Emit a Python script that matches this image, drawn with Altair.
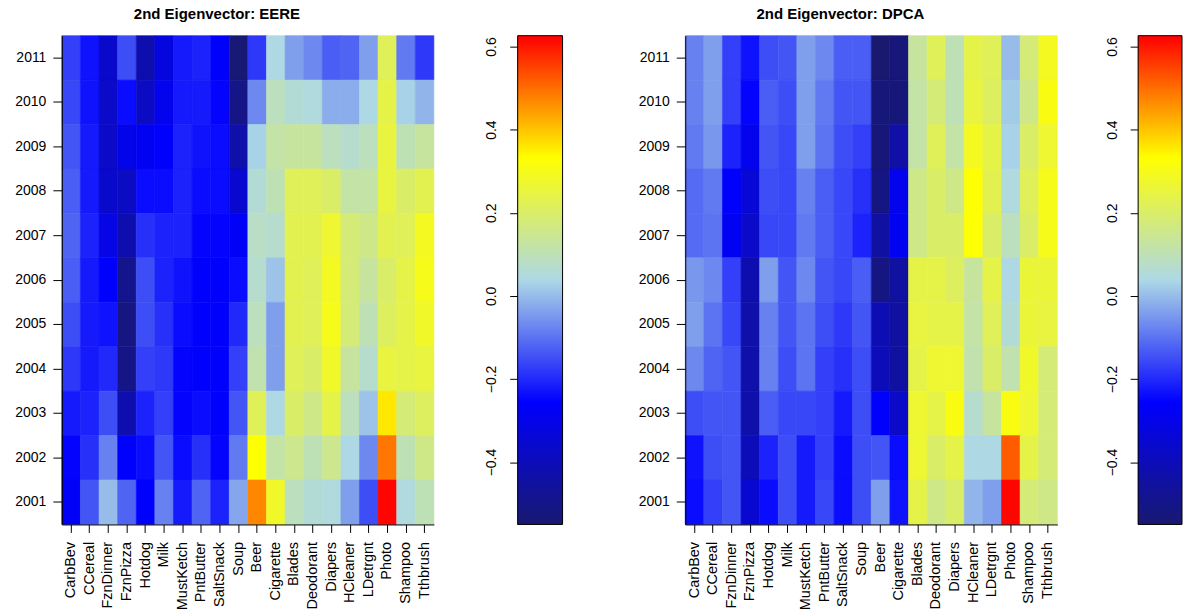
import altair as alt
import pandas as pd

categories = ["CarbBev", "CCereal", "FznDinner", "FznPizza", "Hotdog", "Milk", "MustKetch",
              "PntButter", "SaltSnack", "Soup", "Beer", "Cigarette", "Blades", "Deodorant",
              "Diapers", "HCleaner", "LDetrgnt", "Photo", "Shampoo", "Tthbrush"]
years = [2011, 2010, 2009, 2008, 2007, 2006, 2005, 2004, 2003, 2002, 2001]

# EERE: one list per category, values for 2011 ... 2001
eere_carbbev = [-0.17, -0.16, -0.14, -0.13, -0.12, -0.13, -0.15, -0.18, -0.22, -0.25, -0.27]
eere_ccereal = [-0.23, -0.23, -0.22, -0.22, -0.21, -0.22, -0.22, -0.22, -0.21, -0.19, -0.14]
eere_fzndinner = [-0.36, -0.37, -0.37, -0.36, -0.31, -0.26, -0.23, -0.20, -0.15, -0.08, 0.00]
eere_fznpizza = [-0.15, -0.24, -0.30, -0.38, -0.42, -0.49, -0.51, -0.50, -0.42, -0.26, -0.12]
eere_hotdog = [-0.42, -0.38, -0.28, -0.24, -0.19, -0.15, -0.15, -0.17, -0.21, -0.24, -0.26]
eere_milk = [-0.32, -0.29, -0.26, -0.24, -0.21, -0.21, -0.19, -0.18, -0.17, -0.14, -0.08]
eere_mustketch = [-0.22, -0.22, -0.21, -0.21, -0.21, -0.23, -0.24, -0.25, -0.25, -0.24, -0.22]
eere_pntbutter = [-0.21, -0.22, -0.23, -0.24, -0.25, -0.26, -0.26, -0.26, -0.24, -0.19, -0.12]
eere_saltsnack = [-0.26, -0.25, -0.24, -0.24, -0.25, -0.26, -0.26, -0.26, -0.26, -0.25, -0.21]
eere_soup = [-0.54, -0.50, -0.43, -0.35, -0.27, -0.24, -0.20, -0.17, -0.14, -0.09, -0.03]
eere_beer = [-0.18, -0.07, 0.03, 0.06, 0.08, 0.07, 0.09, 0.11, 0.22, 0.33, 0.47]
eere_cigarette = [0.04, 0.09, 0.12, 0.10, 0.07, 0.01, -0.04, -0.04, 0.04, 0.12, 0.28]
eere_blades = [-0.04, 0.06, 0.13, 0.22, 0.23, 0.23, 0.23, 0.22, 0.20, 0.15, 0.09]
eere_deodorant = [-0.07, 0.05, 0.13, 0.22, 0.23, 0.22, 0.22, 0.20, 0.16, 0.10, 0.06]
eere_diapers = [-0.13, -0.02, 0.09, 0.20, 0.27, 0.29, 0.30, 0.28, 0.24, 0.15, 0.05]
eere_hcleaner = [-0.12, -0.02, 0.07, 0.12, 0.18, 0.18, 0.18, 0.13, 0.09, 0.04, -0.04]
eere_ldetrgnt = [-0.04, 0.04, 0.09, 0.12, 0.16, 0.13, 0.10, 0.07, 0.01, -0.07, -0.15]
eere_photo = [0.22, 0.24, 0.25, 0.25, 0.23, 0.20, 0.21, 0.25, 0.36, 0.49, 0.62]
eere_shampoo = [-0.09, 0.03, 0.10, 0.20, 0.22, 0.24, 0.24, 0.24, 0.18, 0.10, 0.05]
eere_tthbrush = [-0.18, -0.01, 0.13, 0.23, 0.29, 0.30, 0.28, 0.25, 0.21, 0.16, 0.10]

# DPCA: one list per category, values for 2011 ... 2001
dpca_carbbev = [-0.08, -0.08, -0.09, -0.11, -0.11, -0.05, -0.04, -0.07, -0.15, -0.23, -0.24]
dpca_ccereal = [-0.04, -0.04, -0.05, -0.09, -0.10, -0.07, -0.10, -0.12, -0.14, -0.15, -0.17]
dpca_fzndinner = [-0.17, -0.17, -0.21, -0.26, -0.28, -0.17, -0.16, -0.14, -0.14, -0.14, -0.14]
dpca_fznpizza = [-0.23, -0.25, -0.29, -0.34, -0.37, -0.42, -0.43, -0.43, -0.43, -0.40, -0.35]
dpca_hotdog = [-0.15, -0.13, -0.14, -0.15, -0.16, -0.04, -0.08, -0.08, -0.13, -0.21, -0.24]
dpca_milk = [-0.14, -0.15, -0.16, -0.16, -0.16, -0.14, -0.14, -0.15, -0.16, -0.15, -0.15]
dpca_mustketch = [-0.04, -0.04, -0.04, -0.08, -0.09, -0.07, -0.10, -0.10, -0.16, -0.22, -0.22]
dpca_pntbutter = [-0.07, -0.09, -0.10, -0.13, -0.13, -0.14, -0.15, -0.17, -0.17, -0.17, -0.16]
dpca_saltsnack = [-0.13, -0.14, -0.15, -0.16, -0.16, -0.16, -0.18, -0.19, -0.22, -0.24, -0.24]
dpca_soup = [-0.13, -0.14, -0.17, -0.19, -0.21, -0.13, -0.14, -0.15, -0.15, -0.15, -0.15]
dpca_beer = [-0.55, -0.53, -0.53, -0.51, -0.45, -0.51, -0.41, -0.40, -0.26, -0.14, -0.04]
dpca_cigarette = [-0.53, -0.53, -0.44, -0.29, -0.28, -0.45, -0.45, -0.45, -0.37, -0.24, -0.23]
dpca_blades = [0.13, 0.12, 0.12, 0.16, 0.16, 0.24, 0.25, 0.24, 0.27, 0.27, 0.24]
dpca_deodorant = [0.22, 0.18, 0.22, 0.20, 0.20, 0.24, 0.24, 0.27, 0.24, 0.20, 0.16]
dpca_diapers = [0.10, 0.10, 0.12, 0.16, 0.20, 0.21, 0.24, 0.27, 0.31, 0.24, 0.20]
dpca_hcleaner = [0.24, 0.25, 0.29, 0.33, 0.33, 0.13, 0.12, 0.11, 0.07, 0.04, -0.01]
dpca_ldetrgnt = [0.22, 0.21, 0.24, 0.23, 0.20, 0.24, 0.22, 0.20, 0.13, 0.04, -0.04]
dpca_photo = [0.00, 0.02, 0.03, 0.05, 0.09, 0.04, 0.06, 0.11, 0.31, 0.52, 0.62]
dpca_shampoo = [0.18, 0.16, 0.20, 0.22, 0.20, 0.26, 0.26, 0.28, 0.27, 0.24, 0.18]
dpca_tthbrush = [0.29, 0.31, 0.27, 0.30, 0.30, 0.26, 0.25, 0.18, 0.18, 0.18, 0.16]

eere_cols = [eere_carbbev, eere_ccereal, eere_fzndinner, eere_fznpizza, eere_hotdog, eere_milk,
             eere_mustketch, eere_pntbutter, eere_saltsnack, eere_soup, eere_beer, eere_cigarette,
             eere_blades, eere_deodorant, eere_diapers, eere_hcleaner, eere_ldetrgnt, eere_photo,
             eere_shampoo, eere_tthbrush]
dpca_cols = [dpca_carbbev, dpca_ccereal, dpca_fzndinner, dpca_fznpizza, dpca_hotdog, dpca_milk,
             dpca_mustketch, dpca_pntbutter, dpca_saltsnack, dpca_soup, dpca_beer, dpca_cigarette,
             dpca_blades, dpca_deodorant, dpca_diapers, dpca_hcleaner, dpca_ldetrgnt, dpca_photo,
             dpca_shampoo, dpca_tthbrush]

# colour ramp (midnightblue -> blue -> lightblue -> yellow -> red)
z_lo, z_hi = -0.55, 0.626
ramp_colors = ["#191970", "#0000FF", "#ADD8E6", "#FFFF00", "#FF0000"]
ramp_stops = [z_lo + (z_hi - z_lo) * k / 4 for k in range(5)]
bar_ticks = [-0.4, -0.2, 0.0, 0.2, 0.4, 0.6]

FONT = "Liberation Sans"


def long_frame(cols):
    rows = []
    for cat, vals in zip(categories, cols):
        for yr, v in zip(years, vals):
            rows.append({"cat": cat, "year": yr, "value": v})
    return pd.DataFrame(rows)


def heatmap(cols, title):
    ramp = alt.Scale(domain=ramp_stops, range=ramp_colors, interpolate="rgb", clamp=True)
    return alt.Chart(long_frame(cols)).mark_rect(strokeWidth=0.6).encode(
        x=alt.X("cat:N", sort=categories,
                scale=alt.Scale(paddingInner=0, paddingOuter=0),
                axis=alt.Axis(title=None, labelAngle=270, labelAlign="right",
                              labelBaseline="middle", tickSize=8, labelPadding=9,
                              labelFont=FONT, labelFontSize=14.5, labelColor="black")),
        y=alt.Y("year:O", sort=years,
                scale=alt.Scale(paddingInner=0, paddingOuter=0),
                axis=alt.Axis(title=None, tickSize=9, labelPadding=7,
                              labelFont=FONT, labelFontSize=14, labelColor="black")),
        color=alt.Color("value:Q", legend=None, scale=ramp),
        stroke=alt.Stroke("value:Q", legend=None, scale=ramp),
    ).properties(
        width=373, height=490,
        title=alt.TitleParams(text=title, dx=-31, offset=13, fontSize=15,
                              fontWeight="bold", font=FONT, color="black"),
    )


def colorbar(w):
    df = pd.DataFrame({"lo": [z_lo], "hi": [z_hi]})
    grad = alt.Gradient(
        gradient="linear",
        stops=[alt.GradientStop(color=c, offset=k / 4) for k, c in enumerate(ramp_colors)],
        x1=0, x2=0, y1=1, y2=0,
    )
    return alt.Chart(df).mark_rect(color=grad, stroke="black", strokeWidth=1).encode(
        y=alt.Y("lo:Q", scale=alt.Scale(domain=[z_lo, z_hi], nice=False, zero=False),
                axis=alt.Axis(title=None, values=bar_ticks, format=".1f", labelAngle=270,
                              labelAlign="center", labelBaseline="bottom", tickSize=8,
                              labelPadding=11, grid=False, labelFont=FONT,
                              labelFontSize=14, labelColor="black")),
        y2="hi:Q",
    ).properties(width=w, height=490)


left = alt.hconcat(heatmap(eere_cols, "2nd Eigenvector: EERE"), colorbar(45), spacing=50)
right = alt.hconcat(heatmap(dpca_cols, "2nd Eigenvector: DPCA"), colorbar(44), spacing=47)

chart = alt.hconcat(left, right, spacing=74).properties(
    padding={"left": 14, "top": 6, "right": 0, "bottom": 0},
    background="white",
).configure_view(stroke=None).configure_axis(
    tickColor="black", domainColor="black", domainWidth=1, tickWidth=1,
)

chart.save("out.html", embed_options={"renderer": "svg", "actions": False})
